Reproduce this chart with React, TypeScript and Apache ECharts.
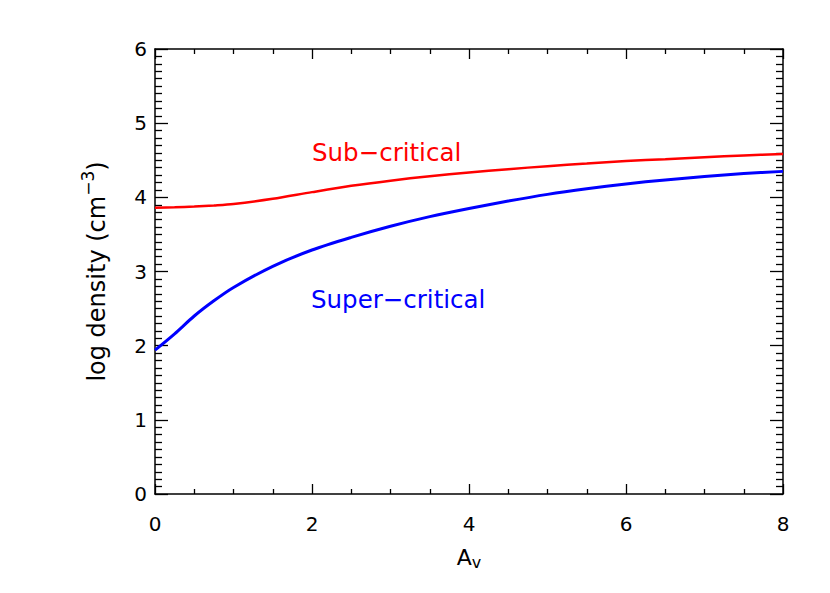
import React, { useEffect, useRef } from "react";
import * as echarts from "echarts";

const avValues = [0, 0.25, 0.5, 0.75, 1.0, 1.5, 2, 2.5, 3, 3.5, 4, 4.5, 5, 5.5, 6, 6.5, 7, 7.5, 8];
const subCritical = [3.86, 3.865, 3.875, 3.89, 3.91, 3.98, 4.07, 4.155, 4.225, 4.285, 4.335, 4.38, 4.42, 4.455, 4.49, 4.515, 4.54, 4.565, 4.585];
const superCritical = [1.94, 2.16, 2.4, 2.605, 2.785, 3.07, 3.29, 3.46, 3.61, 3.74, 3.85, 3.95, 4.04, 4.115, 4.18, 4.235, 4.28, 4.32, 4.35];
const xTicks = { min: 0, max: 8, interval: 2 };
const yTicks = { min: 0, max: 6, interval: 1 };
const labelSub = "Sub−critical";
const labelSuper = "Super−critical";

const FONT = "DejaVu Sans, Liberation Sans, sans-serif";

export default function App() {
  const ref = useRef<HTMLDivElement>(null);
  useEffect(() => {
    document.body.style.margin = "0";
    const chart = echarts.init(ref.current!, null, { renderer: "svg" });
    const axisLine = { show: true, onZero: false, lineStyle: { color: "#000", width: 1.5 } };
    const xBase = {
      type: "value",
      min: xTicks.min,
      max: xTicks.max,
      interval: xTicks.interval,
      axisLine,
      axisTick: { show: true, inside: true, length: 10, lineStyle: { color: "#000", width: 1.3 } },
      minorTick: { show: true, splitNumber: 4, length: 5, lineStyle: { color: "#000", width: 1.3 } },
      splitLine: { show: false },
    };
    const yBase = {
      type: "value",
      min: yTicks.min,
      max: yTicks.max,
      interval: yTicks.interval,
      axisLine,
      axisTick: { show: true, inside: true, length: 13, lineStyle: { color: "#000", width: 1.3 } },
      minorTick: { show: true, splitNumber: 10, length: 7, lineStyle: { color: "#000", width: 1.3 } },
      splitLine: { show: false },
    };
    chart.setOption({
      animation: false,
      backgroundColor: "#fff",
      grid: { left: 155, top: 49, right: 47, bottom: 99, containLabel: false },
      xAxis: [
        {
          ...xBase,
          position: "bottom",
          axisLabel: { color: "#000", fontSize: 20, fontFamily: FONT, margin: 20 },
          name: "{a|A}{s|v}",
          nameLocation: "middle",
          nameGap: 50,
          nameTextStyle: {
            rich: {
              a: { fontSize: 22, fontFamily: FONT, color: "#000", lineHeight: 26 },
              s: { fontSize: 16, fontFamily: FONT, color: "#000", verticalAlign: "bottom", lineHeight: 26, padding: [8, 0, 0, 0] },
            },
          },
        },
        { ...xBase, position: "top", axisLabel: { show: false } },
      ],
      yAxis: [
        {
          ...yBase,
          position: "left",
          axisLabel: { color: "#000", fontSize: 20, fontFamily: FONT, margin: 8 },
          name: "{a|log density (cm}{s|−3}{a|)}",
          nameLocation: "middle",
          nameRotate: 90,
          nameGap: 46,
          nameTextStyle: {
            rich: {
              a: { fontSize: 24, fontFamily: FONT, color: "#000", lineHeight: 30, verticalAlign: "bottom" },
              s: { fontSize: 17, fontFamily: FONT, color: "#000", lineHeight: 30, verticalAlign: "top" },
            },
          },
        },
        { ...yBase, position: "right", axisLabel: { show: false } },
      ],
      series: [
        {
          type: "line",
          name: "Sub-critical",
          data: avValues.map((a, i) => [a, subCritical[i]]),
          smooth: 0.3,
          symbol: "none",
          lineStyle: { color: "#ff0000", width: 2.5 },
          xAxisIndex: 0,
          yAxisIndex: 0,
        },
        {
          type: "line",
          name: "Super-critical",
          data: avValues.map((a, i) => [a, superCritical[i]]),
          smooth: 0.3,
          symbol: "none",
          lineStyle: { color: "#0000ff", width: 3 },
          xAxisIndex: 0,
          yAxisIndex: 0,
        },
      ],
      graphic: [
        {
          type: "text",
          left: 312,
          top: 140,
          style: { text: labelSub, fill: "#ff0000", fontSize: 24.5, fontFamily: FONT },
        },
        {
          type: "text",
          left: 311,
          top: 287,
          style: { text: labelSuper, fill: "#0000ff", fontSize: 24.5, fontFamily: FONT },
        },
      ],
    });
    return () => chart.dispose();
  }, []);
  return <div ref={ref} style={{ width: 830, height: 593 }} />;
}
